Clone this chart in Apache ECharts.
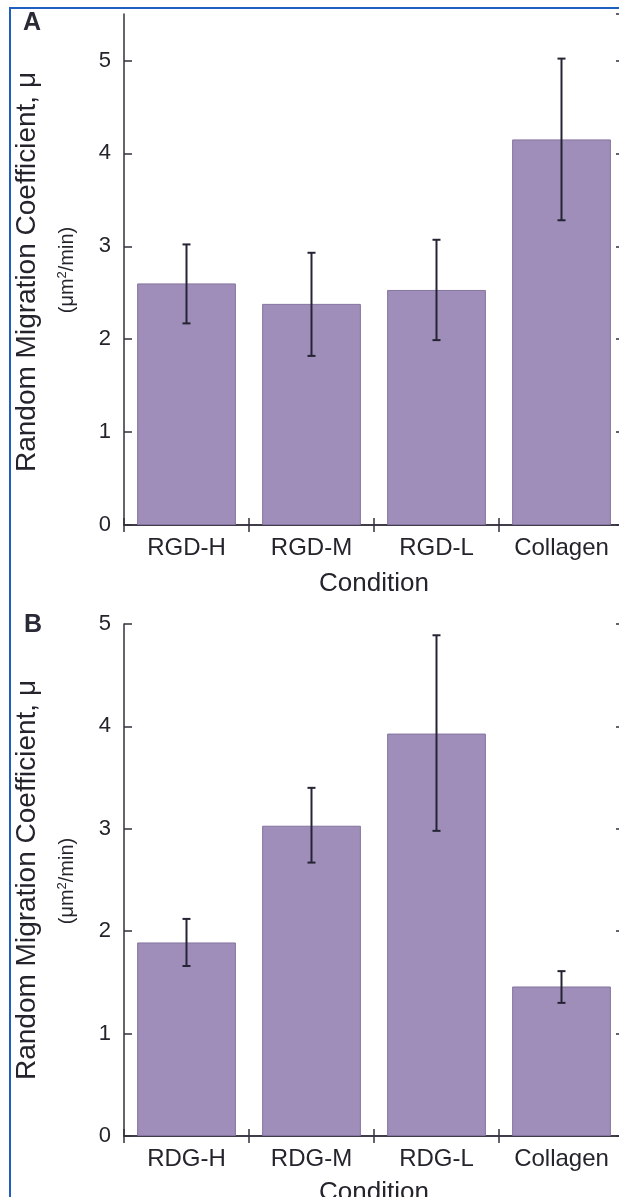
<!DOCTYPE html>
<html>
<head>
<meta charset="utf-8">
<script src="https://cdn.jsdelivr.net/npm/echarts@6/dist/echarts.min.js"></script>
<style>
html,body{margin:0;padding:0;background:#ffffff;}
#chart{width:619px;height:1197px;}
</style>
</head>
<body>
<div id="chart"></div>
<script>
// ---- Data ----
const categoriesA = ['RGD-H', 'RGD-M', 'RGD-L', 'Collagen'];
const valuesA = [2.60, 2.38, 2.53, 4.15];
const errLowA = [2.17, 1.82, 1.99, 3.28];
const errHighA = [3.02, 2.93, 3.07, 5.02];

const categoriesB = ['RDG-H', 'RDG-M', 'RDG-L', 'Collagen'];
const valuesB = [1.89, 3.03, 3.93, 1.46];
const errLowB = [1.66, 2.67, 2.98, 1.30];
const errHighB = [2.12, 3.40, 4.89, 1.61];

const yMaxA = 5.5;
const yMaxB = 5;
const yInterval = 1;
const xTitle = 'Condition';
const yTitle = 'Random Migration Coefficient, μ';

// ---- Styles ----
const FONT = "'Liberation Sans', Arial, Helvetica, sans-serif";
const TEXT = '#24242c';
const AXIS = '#36303f';
const BAR = '#9f8dba';
const BAR_EDGE = '#85749f';
const ERR = '#242434';

const chart = echarts.init(document.getElementById('chart'), null, {renderer: 'canvas'});

function xAxes(cats, gridIndex, nameGap) {
  return [
    {
      type: 'category', gridIndex: gridIndex, position: 'bottom', data: cats,
      boundaryGap: true,
      axisLine: {show: true, lineStyle: {color: AXIS, width: 1.5}},
      axisTick: {show: true, inside: true, length: 7, lineStyle: {color: AXIS, width: 1.5}},
      axisLabel: {color: TEXT, fontFamily: FONT, fontSize: 24, margin: 11},
      name: xTitle, nameLocation: 'middle', nameGap: nameGap,
      nameTextStyle: {color: TEXT, fontFamily: FONT, fontSize: 26}
    },
    {
      type: 'category', gridIndex: gridIndex, position: 'top', data: cats,
      boundaryGap: true,
      axisLine: {show: true, lineStyle: {color: AXIS, width: 1.5}},
      axisTick: {show: true, inside: true, length: 7, lineStyle: {color: AXIS, width: 1.5}},
      axisLabel: {show: false}
    }
  ];
}

function yAxes(max, gridIndex, showMax) {
  return [
    {
      type: 'value', gridIndex: gridIndex, position: 'left', min: 0, max: max, interval: yInterval,
      axisLine: {show: true, lineStyle: {color: AXIS, width: 1.5}},
      axisTick: {show: true, inside: true, length: 8, lineStyle: {color: AXIS, width: 1.5}},
      axisLabel: {color: TEXT, fontFamily: FONT, fontSize: 22, margin: 13, showMaxLabel: showMax},
      splitLine: {show: false}
    },
    {
      type: 'value', gridIndex: gridIndex, position: 'right', min: 0, max: max, interval: yInterval,
      axisLine: {show: true, lineStyle: {color: AXIS, width: 1.5}},
      axisTick: {show: true, inside: true, length: 8, lineStyle: {color: AXIS, width: 1.5}},
      axisLabel: {show: false},
      splitLine: {show: false}
    }
  ];
}

function errRender(params, api) {
  const x = api.value(0);
  const lo = api.coord([x, api.value(1)]);
  const hi = api.coord([x, api.value(2)]);
  const cap = 4;
  const st = {stroke: ERR, lineWidth: 2};
  return {
    type: 'group',
    children: [
      {type: 'line', shape: {x1: hi[0], y1: hi[1], x2: lo[0], y2: lo[1]}, style: st},
      {type: 'line', shape: {x1: hi[0] - cap, y1: hi[1], x2: hi[0] + cap, y2: hi[1]}, style: st},
      {type: 'line', shape: {x1: lo[0] - cap, y1: lo[1], x2: lo[0] + cap, y2: lo[1]}, style: st}
    ]
  };
}

function errData(cats, lows, highs) {
  return cats.map((c, i) => [i, lows[i], highs[i]]);
}

const unitsRich = {
  u: {fontFamily: FONT, fontSize: 20, fill: TEXT},
  s: {fontFamily: FONT, fontSize: 13, fill: TEXT, verticalAlign: 'top', padding: [0, 0, 9, 0]}
};

const option = {
  backgroundColor: '#ffffff',
  animation: false,
  textStyle: {fontFamily: FONT},
  grid: [
    {left: 124, top: 14, width: 500, height: 511, outerBoundsMode: 'none', containLabel: false},
    {left: 124, top: 624, width: 500, height: 512, outerBoundsMode: 'none', containLabel: false}
  ],
  xAxis: [].concat(xAxes(categoriesA, 0, 46), xAxes(categoriesB, 1, 44)),
  yAxis: [].concat(yAxes(yMaxA, 0, false), yAxes(yMaxB, 1, true)),
  series: [
    {
      type: 'bar', xAxisIndex: 0, yAxisIndex: 0, data: valuesA, barCategoryGap: '21%',
      itemStyle: {color: BAR, borderColor: BAR_EDGE, borderWidth: 1}
    },
    {
      type: 'custom', xAxisIndex: 0, yAxisIndex: 0, renderItem: errRender,
      data: errData(categoriesA, errLowA, errHighA), encode: {x: 0, y: [1, 2]}, z: 5
    },
    {
      type: 'bar', xAxisIndex: 2, yAxisIndex: 2, data: valuesB, barCategoryGap: '21%',
      itemStyle: {color: BAR, borderColor: BAR_EDGE, borderWidth: 1}
    },
    {
      type: 'custom', xAxisIndex: 2, yAxisIndex: 2, renderItem: errRender,
      data: errData(categoriesB, errLowB, errHighB), encode: {x: 0, y: [1, 2]}, z: 5
    }
  ],
  graphic: [
    {
      type: 'rect', silent: true, z: 0,
      shape: {x: 10, y: 8, width: 700, height: 1400},
      style: {fill: 'none', stroke: '#1f5fbf', lineWidth: 2}
    },
    {type: 'text', x: 32, y: 23, style: {text: 'A', fontFamily: FONT, fontSize: 25, fontWeight: 'bold', fill: '#2a2a36', align: 'center', verticalAlign: 'middle'}},
    {type: 'text', x: 33, y: 625, style: {text: 'B', fontFamily: FONT, fontSize: 25, fontWeight: 'bold', fill: '#2a2a36', align: 'center', verticalAlign: 'middle'}},
    {type: 'text', x: 27, y: 272, rotation: Math.PI / 2, style: {text: yTitle, fontFamily: FONT, fontSize: 28, fill: TEXT, align: 'center', verticalAlign: 'middle'}},
    {type: 'text', x: 67, y: 270, rotation: Math.PI / 2, style: {text: '{u|(μm}{s|2}{u|/min)}', rich: unitsRich, align: 'center', verticalAlign: 'middle'}},
    {type: 'text', x: 27, y: 880, rotation: Math.PI / 2, style: {text: yTitle, fontFamily: FONT, fontSize: 28, fill: TEXT, align: 'center', verticalAlign: 'middle'}},
    {type: 'text', x: 67, y: 881, rotation: Math.PI / 2, style: {text: '{u|(μm}{s|2}{u|/min)}', rich: unitsRich, align: 'center', verticalAlign: 'middle'}}
  ]
};

chart.setOption(option);
</script>
</body>
</html>
